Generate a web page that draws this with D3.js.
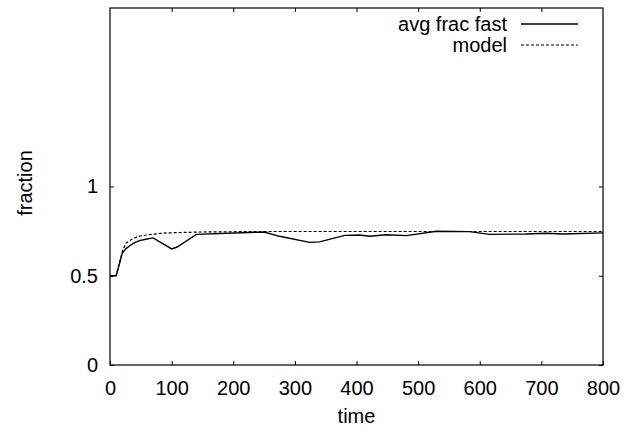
<!DOCTYPE html>
<html>
<head>
<meta charset="utf-8">
<script src="https://cdn.jsdelivr.net/npm/d3@7"></script>
<style>
  body { margin: 0; background: #fff; }
  svg text { font-family: "Liberation Sans", Arial, Helvetica, sans-serif; font-size: 20px; fill: #000; }
</style>
</head>
<body>
<svg id="chart" width="634" height="433"></svg>
<script>
// values
var fastT = [0, 10, 20, 26, 32, 40, 48, 60, 70, 100, 109, 140, 250, 275, 324, 340, 381, 405, 421, 448, 481, 530, 583, 616, 675, 708, 735, 800];
var fastV = [0.5, 0.5, 0.627, 0.652, 0.668, 0.685, 0.697, 0.706, 0.712, 0.65, 0.661, 0.732, 0.745, 0.721, 0.687, 0.69, 0.726, 0.728, 0.721, 0.73, 0.725, 0.749, 0.747, 0.732, 0.734, 0.738, 0.734, 0.74];

var modelT = [0, 10, 20, 26, 37, 48, 65, 81, 92, 146, 250, 400, 600, 800];
var modelV = [0.5, 0.5, 0.635, 0.683, 0.708, 0.722, 0.731, 0.737, 0.740, 0.745, 0.748, 0.748, 0.748, 0.748];

var xTicks = [0, 100, 200, 300, 400, 500, 600, 700, 800];
var yTicks = [0, 0.5, 1];
var legendLabels = ["avg frac fast", "model"];

var LEFT = 110, RIGHT = 603, TOP = 8, BOTTOM = 365,
    TICK = 4;

var svg = d3.select('#chart');

var x = d3.scaleLinear().domain([0, 800]).range([LEFT, RIGHT]);
var y = d3.scaleLinear().domain([0, 2]).range([BOTTOM, TOP]);

function zip(ts, vs) {
    return ts.map(function (t, i) { return [t, vs[i]]; });
}

// ticks: inward, mirrored on top / right like gnuplot
function drawAxis(axis, tr) {
    var g = svg.append('g').attr('transform', tr).call(axis);
    g.select('.domain').remove();
    g.selectAll('.tick line').attr('stroke', '#000').attr('stroke-width', 1);
    return g;
}

var bx = drawAxis(d3.axisBottom(x).tickValues(xTicks).tickSize(-TICK).tickPadding(16).tickFormat(d3.format('d')),
    'translate(0,' + BOTTOM + ')');
bx.selectAll('text').attr('font-size', 20).attr('font-family', null);

drawAxis(d3.axisTop(x).tickValues(xTicks.slice(1, -1)).tickSize(-TICK).tickFormat(''),
    'translate(0,' + TOP + ')');

var ly = drawAxis(d3.axisLeft(y).tickValues(yTicks).tickSize(-TICK).tickPadding(12).tickFormat(d3.format('')),
    'translate(' + LEFT + ',0)');
ly.selectAll('text').attr('font-size', 20).attr('font-family', null);

drawAxis(d3.axisRight(y).tickValues(yTicks).tickSize(-TICK).tickFormat(''),
    'translate(' + RIGHT + ',0)');

// frame
svg.append('rect')
    .attr('x', LEFT).attr('y', TOP)
    .attr('width', RIGHT - LEFT).attr('height', BOTTOM - TOP)
    .attr('fill', 'none').attr('stroke', '#000').attr('stroke-width', 1.2);

var line = d3.line()
    .x(function (d) { return x(d[0]); })
    .y(function (d) { return y(d[1]); });

svg.append('path')
    .datum(zip(modelT, modelV))
    .attr('d', line)
    .attr('fill', 'none').attr('stroke', '#000')
    .attr('stroke-width', 1.2).attr('stroke-dasharray', '3,2');

svg.append('path')
    .datum(zip(fastT, fastV))
    .attr('d', line)
    .attr('fill', 'none').attr('stroke', '#000')
    .attr('stroke-width', 1.4);

// legend
var legend = svg.append('g');
legendLabels.forEach(function (lab, i) {
    var yy = 24 + i * 21;
    legend.append('text')
        .attr('x', 507).attr('y', yy)
        .attr('dy', '0.35em')
        .attr('text-anchor', 'end')
        .text(lab);
    legend.append('line')
        .attr('x1', 521).attr('x2', 578)
        .attr('y1', yy).attr('y2', yy)
        .attr('stroke', '#000')
        .attr('stroke-width', i ? 1.2 : 1.4)
        .attr('stroke-dasharray', i ? '3,2' : null);
});

// axis titles
svg.append('text')
    .attr('x', (LEFT + RIGHT) / 2).attr('y', 423)
    .attr('text-anchor', 'middle')
    .text('time');

svg.append('text')
    .attr('transform', 'translate(32,183) rotate(-90)')
    .attr('text-anchor', 'middle')
    .text('fraction');
</script>
</body>
</html>
